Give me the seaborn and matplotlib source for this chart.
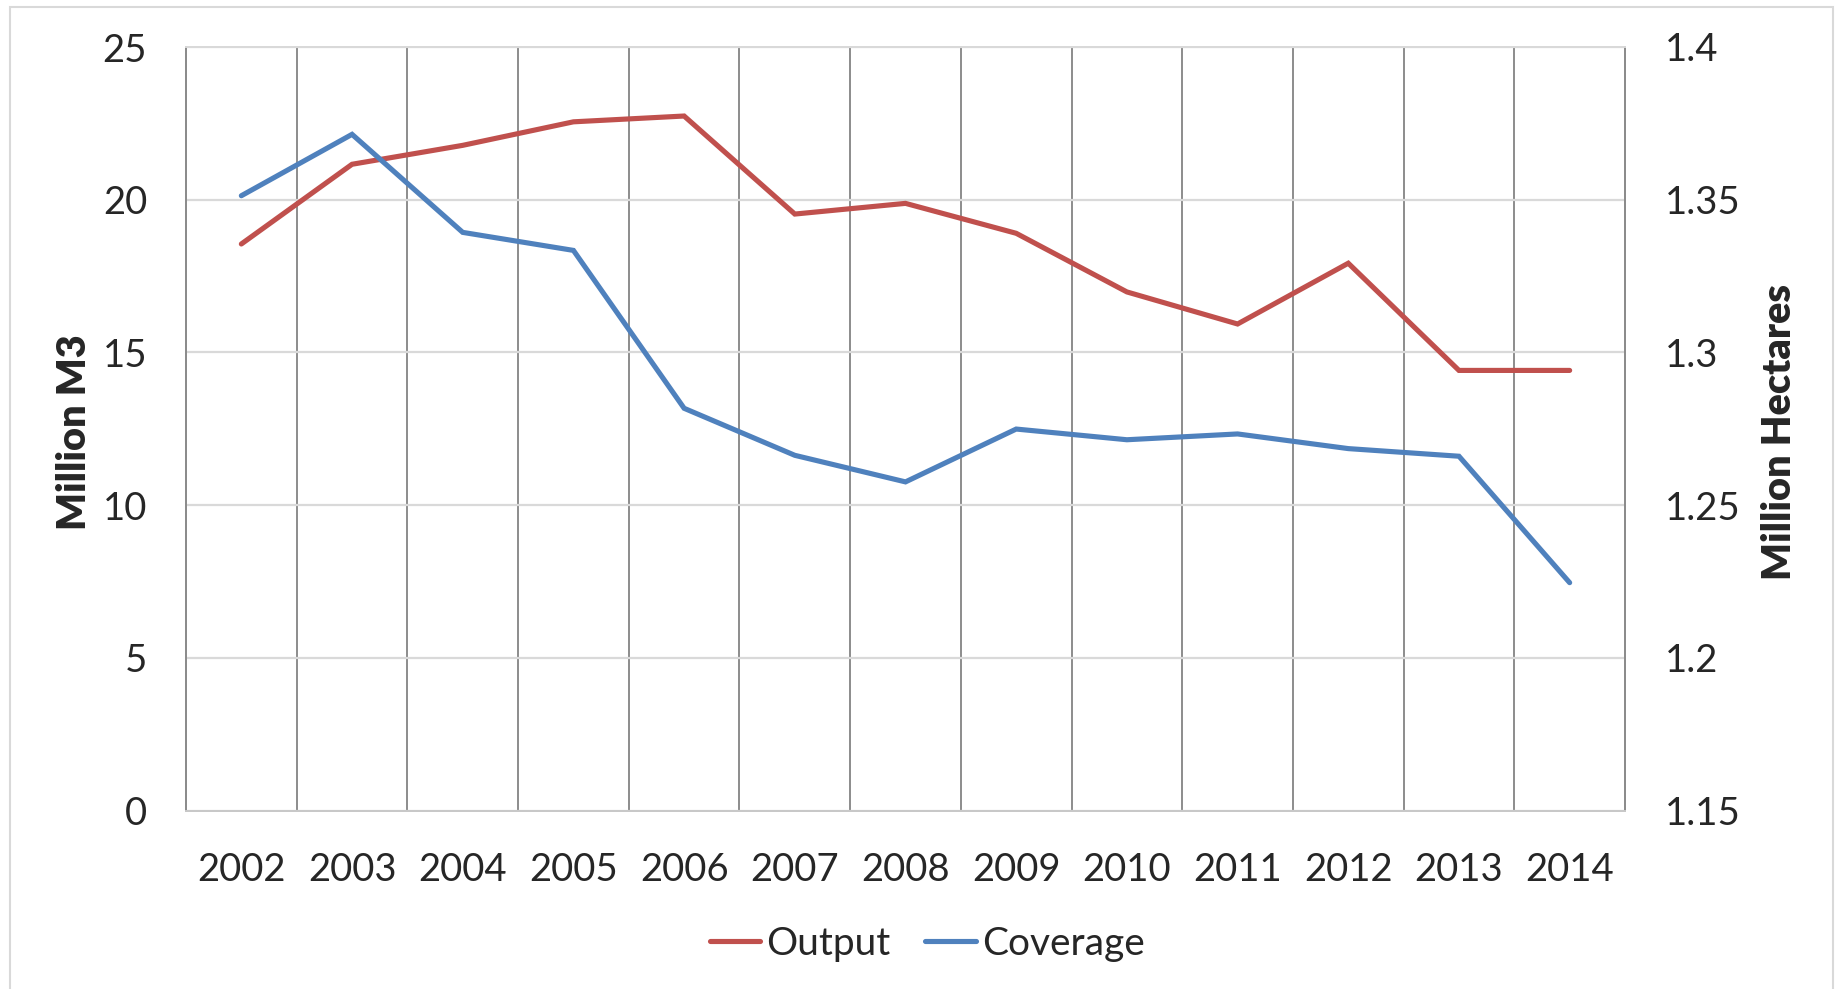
import numpy as np
import pandas as pd
import matplotlib
matplotlib.use("Agg")
import matplotlib.pyplot as plt
from matplotlib.patches import Rectangle
import seaborn as sns

# data
years = [2002, 2003, 2004, 2005, 2006, 2007, 2008, 2009, 2010, 2011, 2012, 2013, 2014]
output_m3 = [18.55, 21.16, 21.78, 22.55, 22.74, 19.53, 19.88, 18.90, 16.98, 15.93, 17.92, 14.41, 14.41]
coverage_ha = [1.3513, 1.3714, 1.3393, 1.3334, 1.2817, 1.2663, 1.2576, 1.2749, 1.2714, 1.2733, 1.2685, 1.2660, 1.2246]

left_ticks = [0, 5, 10, 15, 20, 25]
right_ticks = [1.15, 1.2, 1.25, 1.3, 1.35, 1.4]
right_labels = ["1.15", "1.2", "1.25", "1.3", "1.35", "1.4"]

df = pd.DataFrame({"Year": years, "Output": output_m3, "Coverage": coverage_ha})

sns.set_style("white")
plt.rcParams["font.family"] = ["Lato", "DejaVu Sans"]

red = "#C0504D"
blue = "#4F81BD"

fig = plt.figure(figsize=(18.39, 9.89), dpi=100)
ax = fig.add_axes([186 / 1839, 1 - 810.5 / 989, (1625 - 186) / 1839, (810.5 - 47) / 989])
ax2 = ax.twinx()

sns.lineplot(data=df, x="Year", y="Output", ax=ax, color=red, linewidth=3.7,
             legend=False, label="Output")
sns.lineplot(data=df, x="Year", y="Coverage", ax=ax2, color=blue, linewidth=3.7,
             legend=False, label="Coverage")
for ln in ax.lines + ax2.lines:
    ln.set_solid_capstyle("round")
    ln.set_solid_joinstyle("miter")

ax.set_xlim(years[0] - 0.5, years[-1] + 0.5)
ax.set_ylim(left_ticks[0], left_ticks[-1])
ax2.set_ylim(right_ticks[0], right_ticks[-1])

ax.set_xticks(years)
ax.set_xticklabels([str(y) for y in years])
ax.set_xticks(np.arange(years[0] - 0.5, years[-1] + 0.6, 1.0), minor=True)
ax.set_yticks(left_ticks)
ax2.set_yticks(right_ticks)
ax2.set_yticklabels(right_labels)

# gridlines: light horizontal, darker vertical at category boundaries
ax.set_axisbelow(True)
ax.grid(axis="y", which="major", color="#D9D9D9", linewidth=1.6)
ax.grid(axis="x", which="minor", color="#8C8C8C", linewidth=1.4)
ax.grid(axis="x", which="major", visible=False)

ax.tick_params(axis="x", which="both", length=0, labelsize=27.5, pad=30)
ax.tick_params(axis="y", length=0, labelsize=27.5, pad=28)
ax2.tick_params(axis="y", length=0, labelsize=27.5, pad=29)

for a in (ax, ax2):
    a.spines["left"].set_color("#8C8C8C")
    a.spines["right"].set_color("#8C8C8C")
    a.spines["top"].set_color("#D9D9D9")
    a.spines["bottom"].set_color("#C8C8C8")
    for s in a.spines.values():
        s.set_linewidth(1.4)

ax.set_xlabel("")
ax.set_ylabel("Million M3", fontsize=28.5, fontweight="heavy")
ax2.set_ylabel("Million Hectares", fontsize=28.5, fontweight="heavy")
ax.yaxis.set_label_coords(-0.0643, 0.496)
ax2.yaxis.set_label_coords(1.0945, 0.496)

handles = ax.lines[:1] + ax2.lines[:1]
fig.legend(handles, ["Output", "Coverage"], loc="center",
           bbox_to_anchor=(927 / 1839, 1 - 944 / 989), ncol=2, frameon=False,
           fontsize=28, handlelength=1.3, handletextpad=0.15, columnspacing=0.9)

# outer chart border
fig.patches.append(Rectangle((10 / 1839, -0.01), (1833 - 10) / 1839, 1.01 - 7 / 989,
                             transform=fig.transFigure, fill=False,
                             edgecolor="#D9D9D9", linewidth=1.5))

fig.savefig("out.png", dpi=100, facecolor="white")
